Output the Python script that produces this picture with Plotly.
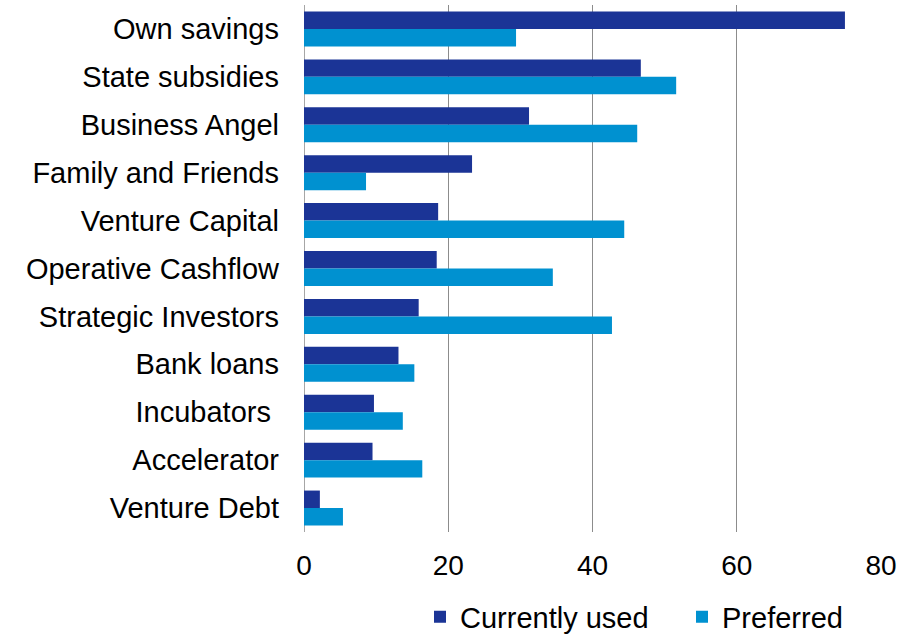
import plotly.graph_objects as go

categories = [
    "Own savings", "State subsidies", "Business Angel", "Family and Friends",
    "Venture Capital", "Operative Cashflow", "Strategic Investors",
    "Bank loans", "Incubators ", "Accelerator", "Venture Debt",
]
currently_used = [75.0, 46.7, 31.2, 23.3, 18.6, 18.4, 15.9, 13.1, 9.7, 9.5, 2.2]
preferred = [29.4, 51.6, 46.2, 8.6, 44.4, 34.5, 42.7, 15.3, 13.7, 16.4, 5.4]
x_ticks = [0, 20, 40, 60, 80]

FONT = "Liberation Sans, Arial, sans-serif"

fig = go.Figure()
fig.add_trace(go.Bar(
    y=categories, x=currently_used, orientation="h", name="Currently used",
    marker=dict(color="#1b3496", line=dict(width=0)), legend="legend",
))
fig.add_trace(go.Bar(
    y=categories, x=preferred, orientation="h", name="Preferred",
    marker=dict(color="#0091d0", line=dict(width=0)), legend="legend2",
))

legend_common = dict(
    orientation="h", xref="container", yref="container",
    xanchor="left", yanchor="middle", y=0.03,
    font=dict(size=29), itemwidth=30, bgcolor="rgba(0,0,0,0)",
    borderwidth=0,
)

fig.update_layout(
    width=915, height=636,
    margin=dict(l=304, r=34, t=5, b=104),
    paper_bgcolor="white", plot_bgcolor="white",
    barmode="group", bargap=0.27, bargroupgap=0,
    font=dict(family=FONT, size=29, color="black"),
    showlegend=True,
    legend=dict(x=420 / 915, **legend_common),
    legend2=dict(x=682 / 915, **legend_common),
)
fig.update_xaxes(
    range=[0, 80], tickvals=x_ticks, showgrid=True, gridcolor="#8c8c8c",
    gridwidth=1, zeroline=True, zerolinecolor="#a6a6a6", zerolinewidth=1,
    showline=False, ticks="", ticklabelstandoff=14,
    tickfont=dict(size=28),
)
fig.update_yaxes(
    autorange="reversed", showgrid=False, showline=False, ticks="",
    ticklabelstandoff=24, tickfont=dict(size=29),
)

fig.write_html("out.html")
